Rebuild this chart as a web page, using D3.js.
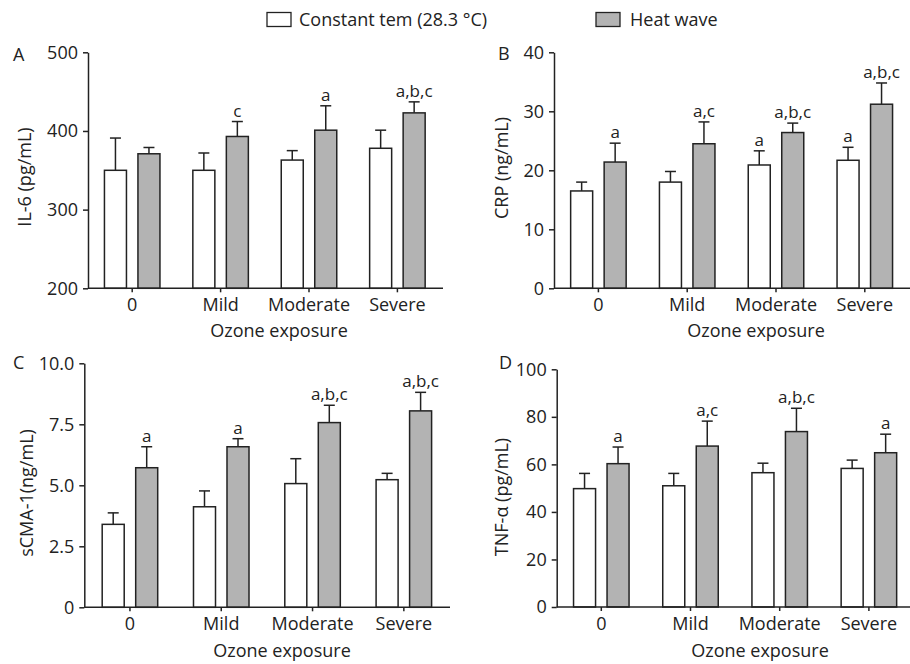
<!DOCTYPE html>
<html>
<head>
<meta charset="utf-8">
<script src="https://cdn.jsdelivr.net/npm/d3@7"></script>
<style>
  body { margin: 0; background: #fff; }
  svg { display: block; font-family: 'Open Sans', sans-serif; }
</style>
</head>
<body>
<svg id="chart" width="910" height="664"></svg>
<script>
const categories = ['0', 'Mild', 'Moderate', 'Severe'];
const seriesNames = ['Constant tem (28.3 °C)', 'Heat wave'];

// IL-6 (pg/mL)
const il6Constant = [350, 350, 363, 378];
const il6ConstantSd = [41, 22, 12, 23];
const il6Heat = [371, 393, 401, 423];
const il6HeatSd = [8, 19, 31, 14];
const il6ConstantSig = ['', '', '', ''];
const il6HeatSig = ['', 'c', 'a', 'a,b,c'];
const il6Ticks = [200, 300, 400, 500];

// CRP (ng/mL)
const crpConstant = [16.5, 18.0, 20.9, 21.7];
const crpConstantSd = [1.5, 1.8, 2.4, 2.2];
const crpHeat = [21.4, 24.5, 26.4, 31.2];
const crpHeatSd = [3.2, 3.7, 1.6, 3.6];
const crpConstantSig = ['', '', 'a', 'a'];
const crpHeatSig = ['a', 'a,c', 'a,b,c', 'a,b,c'];
const crpTicks = [0, 10, 20, 30, 40];

// sCMA-1 (ng/mL)
const scmaConstant = [3.4, 4.12, 5.07, 5.23];
const scmaConstantSd = [0.47, 0.65, 1.02, 0.26];
const scmaHeat = [5.72, 6.58, 7.57, 8.05];
const scmaHeatSd = [0.86, 0.33, 0.71, 0.76];
const scmaConstantSig = ['', '', '', ''];
const scmaHeatSig = ['a', 'a', 'a,b,c', 'a,b,c'];
const scmaTicks = [0, 2.5, 5, 7.5, 10];

// TNF-α (pg/mL)
const tnfConstant = [49.8, 51.0, 56.5, 58.3];
const tnfConstantSd = [6.4, 5.2, 4.0, 3.5];
const tnfHeat = [60.3, 67.7, 73.8, 64.9];
const tnfHeatSd = [7.0, 10.5, 9.8, 7.8];
const tnfConstantSig = ['', '', '', ''];
const tnfHeatSig = ['a', 'a,c', 'a,b,c', 'a'];
const tnfTicks = [0, 20, 40, 60, 80, 100];

const panels = [
  {
    letter: 'A', title: 'IL-6 (pg/mL)', ticks: il6Ticks, fmt: d => d,
    constant: il6Constant, constantSd: il6ConstantSd, heat: il6Heat, heatSd: il6HeatSd,
    constantSig: il6ConstantSig, heatSig: il6HeatSig,
    left: 88, step: 88.4, axisEnd: 443, top: 52.3, bottom: 288.3,
    letterX: 13, letterY: 55, titleX: 25, titleY: 177, xTitleX: 279, xTitleY: 331
  },
  {
    letter: 'B', title: 'CRP (ng/mL)', ticks: crpTicks, fmt: d => d,
    constant: crpConstant, constantSd: crpConstantSd, heat: crpHeat, heatSd: crpHeatSd,
    constantSig: crpConstantSig, heatSig: crpHeatSig,
    left: 554, step: 88.8, axisEnd: 910, top: 52.3, bottom: 288.3,
    letterX: 498, letterY: 54, titleX: 502, titleY: 168, xTitleX: 756, xTitleY: 331
  },
  {
    letter: 'C', title: 'sCMA-1(ng/mL)', ticks: scmaTicks, fmt: d => (d === 0 ? '0' : d3.format('.1f')(d)),
    constant: scmaConstant, constantSd: scmaConstantSd, heat: scmaHeat, heatSd: scmaHeatSd,
    constantSig: scmaConstantSig, heatSig: scmaHeatSig,
    left: 84.3, step: 91.3, axisEnd: 450, top: 363.3, bottom: 607.3,
    letterX: 13, letterY: 363, titleX: 27, titleY: 493, xTitleX: 282, xTitleY: 651
  },
  {
    letter: 'D', title: 'TNF-α (pg/mL)', ticks: tnfTicks, fmt: d => d,
    constant: tnfConstant, constantSd: tnfConstantSd, heat: tnfHeat, heatSd: tnfHeatSd,
    constantSig: tnfConstantSig, heatSig: tnfHeatSig,
    left: 556.7, step: 89.2, axisEnd: 910, top: 369.3, bottom: 607,
    letterX: 499, letterY: 363, titleX: 502, titleY: 497, xTitleX: 760, xTitleY: 651
  }
];

const ink = '#222';
const greyFill = '#b3b3b3';
const fills = [ '#fff', greyFill ];
const svg = d3.select('#chart');

// legend
const legend = svg.append('g');
const legendX = [267, 596];
const legendTextX = [299, 630];
seriesNames.forEach((name, i) => {
  legend.append('rect')
    .attr('x', legendX[i]).attr('y', 12.5)
    .attr('width', 24).attr('height', 14)
    .attr('fill', fills[i]).attr('stroke', ink).attr('stroke-width', 1.3);
  legend.append('text')
    .attr('x', legendTextX[i]).attr('y', 20)
    .attr('dy', '0.35em')
    .attr('font-size', 18).attr('fill', ink)
    .text(name);
});

const drawPanel = p => {
  const g = svg.append('g');

  const x = d3.scaleBand()
    .domain(categories)
    .range([p.left, p.left + p.step * categories.length]);

  const xSub = d3.scaleBand()
    .domain(seriesNames)
    .range([-33.5, 33.5])
    .paddingInner(0.343)
    .paddingOuter(0.1715);

  const y = d3.scaleLinear()
    .domain(d3.extent(p.ticks))
    .range([p.bottom, p.top]);

  const rows = categories.map((c, i) => [
    { cat: c, s: seriesNames[0], v: p.constant[i], sd: p.constantSd[i], sig: p.constantSig[i] },
    { cat: c, s: seriesNames[1], v: p.heat[i], sd: p.heatSd[i], sig: p.heatSig[i] }
  ]).flat();

  const barX = d => x(d.cat) + x.bandwidth() / 2 + xSub(d.s);
  const midX = d => barX(d) + xSub.bandwidth() / 2;

  // error bars (upper only)
  const err = g.append('g').attr('stroke', ink).attr('stroke-width', 1.5);
  err.selectAll('line.stem')
    .data(rows)
    .join('line')
    .attr('class', 'stem')
    .attr('x1', midX).attr('x2', midX)
    .attr('y1', d => y(d.v)).attr('y2', d => y(d.v + d.sd));
  err.selectAll('line.cap')
    .data(rows)
    .join('line')
    .attr('class', 'cap')
    .attr('x1', d => midX(d) - 5.5).attr('x2', d => midX(d) + 5.5)
    .attr('y1', d => y(d.v + d.sd)).attr('y2', d => y(d.v + d.sd));

  // bars
  g.append('g')
    .selectAll('rect')
    .data(rows)
    .join('rect')
    .attr('x', barX)
    .attr('y', d => y(d.v))
    .attr('width', xSub.bandwidth())
    .attr('height', d => y(d3.min(p.ticks)) - y(d.v))
    .attr('fill', d => fills[seriesNames.indexOf(d.s)])
    .attr('stroke', ink)
    .attr('stroke-width', 1.5);

  // significance letters
  g.append('g')
    .selectAll('text')
    .data(rows.filter(d => d.sig))
    .join('text')
    .attr('x', midX)
    .attr('y', d => y(d.v + d.sd) - 5)
    .attr('text-anchor', 'middle')
    .attr('font-size', 17)
    .attr('fill', ink)
    .text(d => d.sig);

  // y axis
  g.append('g')
    .attr('transform', `translate(${p.left}, 0)`)
    .call(d3.axisLeft(y).tickValues(p.ticks).tickFormat(p.fmt).tickSize(5).tickPadding(5).tickSizeOuter(0))
    .call(a => a.select('.domain').attr('stroke', ink).attr('stroke-width', 1.5))
    .call(a => a.selectAll('.tick line').attr('stroke', ink).attr('stroke-width', 1.5))
    .call(a => a.selectAll('.tick text').attr('font-size', 18).attr('fill', ink).attr('font-family', 'Open Sans'));

  // x axis
  g.append('g')
    .attr('transform', `translate(0, ${p.bottom})`)
    .call(d3.axisBottom(x).tickSize(4).tickPadding(6).tickSizeOuter(0))
    .call(a => a.select('.domain').attr('d', `M${p.left},0H${p.axisEnd}`).attr('stroke', ink).attr('stroke-width', 1.5))
    .call(a => a.selectAll('.tick line').attr('stroke', ink).attr('stroke-width', 1.5))
    .call(a => a.selectAll('.tick text').attr('font-size', 18).attr('fill', ink).attr('font-family', 'Open Sans'));

  g.append('text')
    .attr('x', p.xTitleX).attr('y', p.xTitleY)
    .attr('dy', '0.35em')
    .attr('text-anchor', 'middle')
    .attr('font-size', 18).attr('fill', ink)
    .text('Ozone exposure');

  g.append('text')
    .attr('transform', `translate(${p.titleX}, ${p.titleY}) rotate(-90)`)
    .attr('dy', '0.35em')
    .attr('text-anchor', 'middle')
    .attr('font-size', 18).attr('fill', ink)
    .text(p.title);

  g.append('text')
    .attr('x', p.letterX).attr('y', p.letterY)
    .attr('dy', '0.35em')
    .attr('font-size', 18).attr('fill', ink)
    .text(p.letter);
};

panels.forEach(drawPanel);
</script>
</body>
</html>
